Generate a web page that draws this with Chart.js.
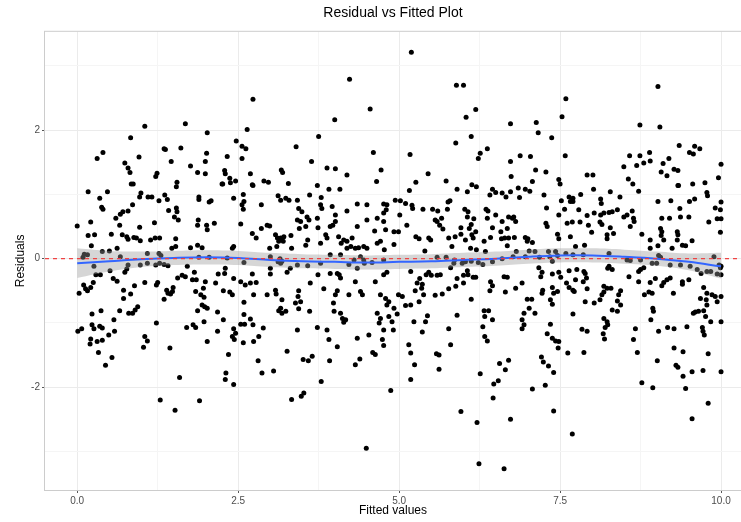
<!DOCTYPE html>
<html>
<head>
<meta charset="utf-8">
<script src="https://cdn.jsdelivr.net/npm/chart.js@4/dist/chart.umd.min.js"></script>
<style>
  html, body { margin: 0; padding: 0; background: #fff; }
  #wrap { width: 741px; height: 522px; }
</style>
</head>
<body>
<div id="wrap"><canvas id="residPlot"></canvas></div>
<script>
// axis breaks
const xMajor = [0, 2.5, 5, 7.5, 10];
const xMinor = [1.25, 3.75, 6.25, 8.75];
const yMajor = [-2, 0, 2];
const yMinor = [-3, -1, 1, 3];

// loess fit and its confidence band
const smoothX    = [0, 0.5, 1, 1.5, 2, 2.5, 3, 3.5, 4, 4.5, 5, 5.5, 6, 6.5, 7, 7.5, 8, 8.5, 9, 9.5, 10];
const smoothY    = [-0.07, -0.04, -0.01, 0.01, 0.02, 0.01, -0.02, -0.04, -0.05, -0.06, -0.05, -0.04, -0.02, 0.00, 0.03, 0.05, 0.05, 0.03, 0.00, -0.05, -0.12];
const bandLow    = [-0.30, -0.20, -0.13, -0.10, -0.09, -0.10, -0.13, -0.15, -0.16, -0.17, -0.16, -0.15, -0.13, -0.11, -0.08, -0.06, -0.06, -0.08, -0.11, -0.18, -0.31];
const bandHigh   = [0.16, 0.12, 0.11, 0.12, 0.13, 0.12, 0.09, 0.07, 0.06, 0.05, 0.06, 0.07, 0.09, 0.11, 0.14, 0.16, 0.16, 0.14, 0.11, 0.08, 0.09];

// [fitted, residual]
const residuals = [
  [1.05,2.06],[1.68,2.10],[0.83,1.88],[2.02,1.96],[0.40,1.65],[0.31,1.56],[1.35,1.71],[1.37,1.70],[1.61,1.72],[0.96,1.58],
  [0.74,1.49],[0.79,1.41],[0.82,1.34],[1.46,1.51],[1.76,1.44],[2.01,1.64],[1.99,1.51],[1.87,1.34],[1.99,1.32],[1.24,1.33],
  [1.22,1.28],[0.84,1.16],[0.87,1.16],[1.55,1.19],[2.26,1.16],
  [4.23,2.79],[2.73,2.48],[4.55,2.33],[4.00,2.16],[2.64,2.01],[3.75,1.90],[2.47,1.83],[2.56,1.75],[2.62,1.71],[3.40,1.74],
  [2.33,1.59],[2.56,1.56],[4.60,1.65],[3.64,1.51],[2.29,1.37],[2.30,1.32],[2.37,1.25],[2.38,1.18],[2.46,1.21],[2.25,1.16],
  [2.69,1.32],[2.72,1.15],[2.90,1.21],[2.97,1.19],[3.17,1.38],[3.19,1.34],[3.28,1.17],[3.88,1.41],[4.01,1.40],[4.19,1.30],
  [4.72,1.38],[4.65,1.20],[3.73,1.14],
  [5.19,3.21],[5.89,2.70],[6.00,2.70],[7.59,2.49],[6.19,2.32],[6.04,2.20],[7.53,2.21],[6.73,2.10],[7.13,2.12],[7.16,1.96],
  [6.12,1.90],[7.37,1.88],[5.88,1.80],[5.17,1.62],[6.37,1.71],[6.26,1.64],[6.23,1.56],[6.73,1.51],[6.88,1.60],[7.04,1.59],
  [7.58,1.60],[7.12,1.38],[7.28,1.35],[6.74,1.28],[5.45,1.32],[5.26,1.19],[5.73,1.21],[7.07,1.20],[7.48,1.23],[7.50,1.16],
  [6.13,1.15],
  [9.02,2.68],[8.74,2.08],[9.05,2.05],[9.35,1.76],[9.59,1.75],[9.67,1.71],[9.51,1.65],[9.57,1.63],[8.58,1.60],[8.74,1.60],
  [8.89,1.65],[8.90,1.52],[8.80,1.49],[8.69,1.45],[8.49,1.43],[9.19,1.56],[9.10,1.48],[9.27,1.39],[9.33,1.37],[9.07,1.35],
  [9.16,1.29],[10.0,1.47],[9.96,1.26],[9.75,1.18],[9.56,1.16],[9.33,1.14],[8.56,1.24],[8.63,1.16],[7.92,1.30],[8.01,1.30],
  [0.17,1.04],[0.47,1.04],[0.35,0.94],[0.38,0.80],[0.40,0.77],[0.97,0.96],[0.99,1.02],[1.10,0.96],[1.16,0.96],[1.27,0.90],
  [1.36,0.99],[1.40,0.92],[1.54,1.12],[1.89,0.96],[1.89,0.92],[2.05,0.88],[2.08,0.90],[1.42,0.75],[1.54,0.79],[1.55,0.73],
  [0.71,0.73],[0.79,0.74],[0.86,0.84],[0.60,0.63],[0.67,0.69],[0.66,0.52],[1.51,0.65],[1.57,0.60],[1.88,0.60],[1.87,0.52],
  [2.01,0.52],[2.02,0.45],[2.13,0.55],[1.20,0.56],[0.97,0.49],[0.00,0.51],[0.21,0.57],[0.17,0.36],[0.27,0.37],[0.22,0.20],
  [0.53,0.38],[0.70,0.37],[0.77,0.34],[0.79,0.30],[0.88,0.33],[0.92,0.32],[0.98,0.28],[1.14,0.29],[1.21,0.32],[1.28,0.32],
  [1.53,0.31],[1.53,0.19],[1.47,0.16],[1.87,0.21],[1.94,0.17],[1.76,0.17],[0.62,0.16],[0.50,0.12],[0.39,0.11],[0.11,0.07],
  [0.09,0.02],[0.16,0.06],[0.67,0.03],[1.09,0.08],[1.27,0.08],[1.30,0.05],[1.89,0.02],[2.05,0.02],[1.09,-0.07],[0.98,-0.10],
  [1.22,-0.10],[1.28,-0.07],[1.35,-0.09],[1.41,-0.11],[0.79,-0.10],[0.77,-0.16],[0.74,-0.21],[0.26,-0.12],[0.29,-0.25],[0.36,-0.25],
  [0.51,-0.19],[0.25,-0.37],[0.21,-0.45],[0.10,-0.41],[0.13,-0.47],[0.03,-0.54],[0.16,-0.50],[0.56,-0.31],[0.62,-0.35],[0.89,-0.42],
  [1.05,-0.37],[1.23,-0.41],[1.25,-0.37],[0.72,-0.49],[0.72,-0.62],[0.83,-0.55],[1.49,-0.45],[1.48,-0.51],[1.39,-0.49],[1.41,-0.54],
  [1.45,-0.55],[1.35,-0.63],[1.56,-0.30],[1.63,-0.26],[1.68,-0.28],[1.71,-0.12],[1.79,-0.33],[1.85,-0.33],[1.82,-0.21],[1.99,-0.36],
  [2.15,-0.38],[2.19,-0.24],[1.96,-0.46],[1.92,-0.56],[1.84,-0.51],[1.97,-0.60],[1.94,-0.72],[1.98,-0.75],[2.02,-0.77],[1.87,-0.81],
  [2.18,-0.83],[1.80,-1.03],[1.84,-1.07],[1.70,-1.07],[1.97,-0.98],[2.18,-1.13],[2.02,-1.29],[0.23,-0.86],[0.37,-0.81],[0.66,-0.81],
  [0.80,-0.85],[0.86,-0.85],[0.90,-0.80],[0.94,-0.75],[0.57,-0.95],[0.35,-1.05],[0.39,-1.08],[0.23,-1.03],[0.26,-1.09],[0.07,-1.09],
  [0.01,-1.13],[0.49,-1.19],[0.39,-1.27],[0.31,-1.29],[0.21,-1.25],[0.20,-1.33],[0.58,-1.13],[1.05,-1.21],[1.09,-1.28],[1.23,-1.00],
  [1.03,-1.38],[1.44,-1.39],
  [0.33,-1.46],[0.54,-1.54],[0.44,-1.66],[1.59,-1.85],[1.29,-2.20],[1.52,-2.36],[1.90,-2.21],
  [2.43,0.94],[2.58,1.00],[2.59,0.89],[2.56,0.84],[2.58,0.77],[2.73,1.14],[2.86,0.84],[3.12,0.98],[3.16,0.91],[3.24,0.94],
  [3.29,0.91],[3.42,0.91],[3.61,0.99],[3.79,0.95],[3.91,1.08],[4.08,1.08],[3.44,0.78],[3.49,0.73],[3.78,0.84],[3.80,0.78],
  [3.96,0.81],[4.01,0.68],[4.19,0.74],[4.35,0.85],[4.50,0.84],[4.76,0.85],[4.81,0.84],[4.80,0.76],[4.76,0.71],[4.94,0.91],
  [3.42,0.60],[3.47,0.58],[3.57,0.65],[3.60,0.60],[3.73,0.63],[3.45,0.47],[3.55,0.50],[3.74,0.48],[3.93,0.50],[3.97,0.52],
  [4.01,0.58],[4.35,0.50],[4.50,0.60],[4.66,0.63],[4.76,0.58],[4.79,0.45],[4.62,0.43],[4.92,0.42],[2.54,0.54],[2.72,0.39],
  [2.78,0.32],[2.86,0.47],[2.95,0.52],[2.99,0.51],[3.08,0.37],[3.11,0.32],[3.16,0.32],[3.21,0.34],[3.13,0.27],[3.20,0.27],
  [3.32,0.36],[3.58,0.29],[3.55,0.21],[3.78,0.24],[3.86,0.37],[3.88,0.32],[4.06,0.34],[4.10,0.24],[4.14,0.29],[4.19,0.27],
  [4.27,0.32],[4.25,0.19],[4.19,0.16],[4.32,0.16],[4.37,0.17],[4.45,0.19],[4.50,0.16],[4.66,0.24],[4.71,0.27],[4.92,0.22],
  [4.77,0.14],[2.43,0.19],[2.41,0.16],[2.99,0.16],[3.10,0.19],[3.33,0.16],[3.00,0.03],[3.15,0.00],[3.12,-0.05],[3.16,-0.07],
  [3.18,-0.04],[3.42,-0.10],[3.58,-0.11],[3.78,-0.07],[3.93,0.06],[4.09,0.06],[4.22,-0.09],[4.40,0.03],[4.45,-0.02],[4.46,-0.07],
  [4.30,-0.02],[4.58,-0.06],[4.76,-0.02],[2.33,0.01],[2.59,-0.06],[2.30,-0.15],[2.29,-0.23],[2.43,-0.31],[2.72,-0.24],[3.00,-0.15],
  [3.00,-0.24],[3.26,-0.21],[3.31,-0.15],[3.74,-0.25],[3.93,-0.23],[4.04,-0.23],[4.07,-0.25],[4.09,-0.30],[4.35,-0.15],[4.32,-0.36],
  [4.63,-0.36],[4.76,-0.25],[4.81,-0.21],[2.54,-0.36],[2.61,-0.41],[2.69,-0.38],[2.78,-0.37],[2.27,-0.50],[2.37,-0.52],[2.41,-0.56],
  [2.59,-0.68],[2.74,-0.56],[2.95,-0.56],[3.08,-0.49],[3.09,-0.55],[3.18,-0.64],[3.44,-0.50],[3.47,-0.67],[3.39,-0.69],[3.43,-0.59],
  [3.62,-0.38],[3.83,-0.47],[4.04,-0.50],[4.01,-0.56],[4.22,-0.56],[4.40,-0.51],[4.43,-0.56],[4.71,-0.56],[4.79,-0.62],[4.84,-0.67],
  [4.81,-0.72],[4.92,-0.77],[3.16,-0.77],[3.13,-0.81],[3.18,-0.85],[3.24,-0.82],[3.44,-0.78],[3.98,-0.69],[3.61,-0.82],[3.99,-0.82],
  [4.09,-0.85],[4.12,-0.93],[4.17,-0.95],[4.14,-0.99],[4.66,-0.85],[4.71,-0.93],[4.84,-0.90],[4.89,-0.98],[2.27,-0.95],[2.59,-0.87],
  [2.69,-0.94],[2.54,-1.02],[2.60,-1.02],[2.43,-1.09],[2.46,-1.16],[2.41,-1.21],[2.44,-1.26],[2.73,-1.03],[2.89,-1.08],[2.82,-1.21],
  [2.74,-1.29],[2.58,-1.31],[3.42,-1.11],[3.73,-1.07],[3.88,-1.11],[3.91,-1.26],[4.04,-1.37],[4.35,-1.24],[4.53,-1.19],[4.69,-1.00],
  [4.76,-1.11],[4.91,-1.11],[4.74,-1.26],[4.76,-1.35],
  [2.35,-1.49],[2.31,-1.78],[2.30,-1.88],[2.43,-1.96],[2.81,-1.59],[2.87,-1.78],[3.05,-1.75],[3.26,-1.44],[3.51,-1.57],[3.59,-1.59],
  [3.65,-1.52],[3.33,-2.19],[3.48,-2.14],[3.52,-2.09],[3.79,-1.91],[3.92,-1.59],[4.32,-1.65],[4.39,-1.56],[4.59,-1.46],[4.63,-1.49],
  [4.87,-2.05],[4.49,-2.95],
  [5.16,1.06],[5.90,1.08],[6.06,1.04],[6.20,1.12],[6.45,1.08],[6.41,0.99],[6.50,1.03],[6.60,1.02],[6.66,0.96],[6.73,1.04],
  [6.87,0.95],[6.85,1.10],[6.96,1.08],[7.03,1.05],[7.25,0.99],[7.52,0.90],[7.64,0.96],[7.66,0.89],[5.02,0.90],[5.10,0.86],
  [5.20,0.83],[5.21,0.78],[5.37,0.77],[5.52,0.77],[5.60,0.74],[5.75,0.77],[5.79,0.90],[5.76,0.88],[6.02,0.77],[6.07,0.73],
  [6.06,0.65],[6.16,0.62],[6.35,0.77],[6.38,0.74],[6.37,0.63],[6.50,0.68],[6.60,0.58],[6.70,0.65],[6.78,0.65],[6.76,0.63],
  [6.81,0.58],[7.29,0.79],[7.48,0.68],[7.57,0.77],[5.01,0.68],[5.12,0.52],[5.56,0.60],[5.59,0.58],[5.63,0.52],[5.66,0.63],
  [5.96,0.48],[6.09,0.47],[6.12,0.53],[6.19,0.42],[6.45,0.48],[6.68,0.47],[7.28,0.55],[7.30,0.50],[7.61,0.55],[5.26,0.34],
  [5.31,0.31],[5.46,0.32],[5.49,0.29],[5.68,0.46],[5.77,0.32],[5.87,0.34],[5.96,0.38],[6.03,0.29],[6.13,0.37],[6.15,0.32],
  [6.32,0.27],[6.42,0.33],[6.58,0.42],[6.59,0.31],[6.64,0.32],[6.70,0.32],[6.79,0.33],[6.96,0.33],[7.00,0.31],[7.07,0.25],
  [6.99,0.27],[7.46,0.38],[7.48,0.31],[7.66,0.34],[5.40,0.12],[4.99,0.42],[5.82,0.19],[6.11,0.16],[6.20,0.14],[6.34,0.11],
  [6.68,0.20],[6.82,0.11],[7.02,0.12],[7.11,0.11],[7.32,0.11],[7.43,0.11],[7.59,0.08],[5.59,0.02],[5.73,0.02],[5.86,-0.02],
  [5.98,-0.07],[6.03,-0.05],[6.12,-0.04],[6.23,-0.06],[6.30,-0.09],[6.45,-0.05],[6.60,0.00],[6.77,0.03],[6.96,0.03],[7.18,0.02],
  [7.34,0.03],[7.38,-0.04],[7.46,0.05],[5.18,-0.20],[5.42,-0.25],[5.46,-0.21],[5.50,-0.26],[5.59,-0.26],[5.64,-0.25],[5.80,-0.14],
  [5.85,-0.07],[6.06,-0.19],[6.07,-0.25],[6.15,-0.29],[6.19,-0.29],[6.00,-0.26],[6.63,-0.28],[6.68,-0.29],[7.17,-0.14],[7.22,-0.21],
  [7.20,-0.28],[7.38,-0.24],[7.48,-0.21],[7.51,-0.29],[7.64,-0.19],[5.32,-0.31],[5.28,-0.38],[5.36,-0.40],[5.35,-0.46],[5.38,-0.56],
  [5.31,-0.67],[5.25,-0.50],[4.99,-0.56],[5.05,-0.59],[5.10,-0.73],[5.18,-0.72],[5.56,-0.57],[5.67,-0.55],[5.77,-0.47],[5.90,-0.31],
  [5.88,-0.43],[6.00,-0.38],[6.12,-0.63],[6.42,-0.36],[6.45,-0.42],[6.41,-0.50],[6.65,-0.52],[6.81,-0.46],[6.91,-0.38],[7.23,-0.49],
  [7.22,-0.54],[7.40,-0.54],[7.38,-0.45],[7.60,-0.38],[7.64,-0.45],[6.99,-0.63],[7.06,-0.63],[7.02,-0.77],[7.35,-0.64],[7.38,-0.71],
  [7.46,-0.51],[5.44,-0.89],[5.41,-0.98],[5.36,-1.14],[5.23,-0.98],[5.15,-1.34],[4.97,-0.86],[5.77,-1.09],[5.90,-0.88],[6.32,-0.81],
  [6.39,-0.81],[6.33,-0.90],[6.45,-0.95],[6.30,-1.06],[6.33,-1.21],[6.37,-1.28],[6.91,-0.95],[6.94,-0.85],[6.94,-1.03],[6.91,-1.09],
  [7.11,-0.85],[7.35,-1.02],[7.30,-1.17],[7.38,-1.24],[7.43,-1.28],[7.48,-1.29],[7.47,-1.39],
  [5.18,-1.47],[5.24,-1.65],[5.18,-1.88],[5.58,-1.48],[5.62,-1.50],[5.62,-1.72],[5.80,-1.34],[5.96,-2.38],[6.26,-1.79],[6.21,-2.55],
  [6.24,-3.19],[6.46,-2.17],[6.47,-1.95],[6.54,-1.90],[6.56,-1.63],[6.65,-1.73],[6.70,-1.58],[6.73,-2.50],[6.63,-3.27],[7.07,-2.03],
  [7.21,-1.53],[7.24,-1.61],[7.32,-1.67],[7.27,-1.97],[7.40,-1.77],[7.40,-2.37],[7.62,-1.47],[7.69,-2.73],
  [8.02,1.08],[8.28,1.04],[8.72,1.05],[9.34,1.14],[9.78,1.03],[9.79,0.98],[7.70,0.94],[7.70,0.89],[7.82,1.00],[8.13,0.93],
  [8.14,0.86],[8.43,0.96],[9.02,0.89],[9.22,0.90],[9.51,0.89],[9.59,0.93],[10.0,0.88],[9.99,0.76],[9.91,0.79],[7.79,0.76],
  [7.92,0.67],[8.03,0.71],[8.13,0.68],[8.18,0.71],[8.26,0.72],[8.31,0.73],[8.39,0.76],[8.49,0.65],[8.54,0.68],[8.62,0.74],
  [8.64,0.63],[8.65,0.58],[8.59,0.50],[8.12,0.57],[8.15,0.53],[8.28,0.48],[8.23,0.37],[8.23,0.31],[8.33,0.39],[7.99,0.41],
  [7.69,0.57],[7.81,0.57],[7.94,0.52],[9.08,0.63],[9.20,0.63],[9.37,0.65],[9.36,0.78],[9.50,0.65],[9.81,0.57],[9.94,0.62],
  [10.0,0.62],[9.99,0.41],[9.06,0.47],[9.08,0.42],[9.07,0.36],[9.11,0.29],[9.32,0.42],[9.33,0.37],[9.32,0.29],[8.77,0.38],
  [8.90,0.29],[9.40,0.21],[9.45,0.20],[9.55,0.28],[9.02,0.20],[8.90,0.16],[9.24,0.16],[7.74,0.19],[7.88,0.21],[7.86,0.06],
  [7.70,0.06],[8.26,0.08],[8.54,-0.02],[8.59,-0.03],[8.75,-0.02],[9.03,0.05],[9.06,0.02],[9.00,-0.07],[8.93,-0.07],[9.21,-0.10],
  [9.37,-0.10],[9.52,-0.12],[9.63,-0.17],[9.69,-0.23],[9.78,-0.20],[9.89,0.03],[9.97,-0.10],[9.99,-0.14],[10.0,-0.12],[10.0,-0.25],
  [9.94,-0.24],[9.84,-0.20],[7.76,-0.17],[7.87,-0.20],[7.89,-0.23],[8.26,-0.12],[8.24,-0.15],[8.31,-0.17],[8.57,-0.28],[8.72,-0.20],
  [8.75,-0.17],[8.80,-0.14],[7.74,-0.33],[7.86,-0.36],[7.91,-0.30],[7.70,-0.49],[7.72,-0.51],[7.92,-0.47],[8.18,-0.43],[8.23,-0.46],
  [8.29,-0.46],[8.44,-0.50],[8.41,-0.56],[8.18,-0.52],[8.15,-0.56],[8.12,-0.64],[8.03,-0.69],[7.89,-0.67],[8.39,-0.66],[8.44,-0.72],
  [8.39,-0.82],[8.31,-0.80],[7.70,-0.86],[8.72,-0.36],[8.90,-0.37],[8.98,-0.31],[9.11,-0.37],[9.16,-0.33],[9.21,-0.30],[9.08,-0.42],
  [9.40,-0.36],[9.50,-0.33],[9.40,-0.40],[8.81,-0.56],[8.88,-0.52],[8.93,-0.54],[9.26,-0.54],[8.94,-0.77],[8.95,-0.82],[8.91,-0.95],
  [9.73,-0.45],[9.78,-0.54],[9.68,-0.62],[9.77,-0.64],[9.86,-0.56],[9.91,-0.59],[9.94,-0.67],[10.0,-0.59],[9.78,-0.72],[9.73,-0.81],
  [9.65,-0.82],[9.60,-0.83],[9.57,-0.85],[9.76,-0.90],[9.84,-0.98],[10.0,-0.98],[9.47,-1.06],[9.71,-1.07],[9.72,-1.13],[9.74,-1.19],
  [9.27,-1.09],[9.17,-1.07],[9.03,-1.13],[8.67,-1.09],[8.64,-1.26],[8.18,-0.93],[8.23,-0.98],[8.24,-1.03],[8.20,-1.07],[8.17,-1.17],
  [7.84,-1.10],[7.92,-1.13],[8.19,-1.25],
  [7.87,-1.46],[8.70,-1.46],[9.01,-1.59],[9.27,-1.39],[9.41,-1.45],[9.80,-1.48],[9.30,-1.66],[9.33,-1.69],[9.41,-1.83],[9.55,-1.76],
  [9.72,-1.74],[10.0,-1.76],[8.77,-1.93],[8.94,-2.01],[9.45,-2.02],[9.80,-2.25],[9.55,-2.49]
];

const FONT = "'Liberation Sans', Arial, Helvetica, sans-serif";
Chart.defaults.font.family = FONT;

// grey frame round the panel
const panelFrame = {
  id: 'panelFrame',
  afterDraw(chart) {
    const { ctx, chartArea: a } = chart;
    ctx.save();
    ctx.strokeStyle = '#cccccc';
    ctx.lineWidth = 1;
    ctx.strokeRect(a.left - 0.5, a.top - 0.5, a.right - a.left + 1, a.bottom - a.top + 1);
    ctx.restore();
  }
};

// dashed red reference line at residual = 0
const zeroLine = {
  id: 'zeroLine',
  afterDatasetsDraw(chart) {
    const { ctx, chartArea: a, scales: { y } } = chart;
    const py = y.getPixelForValue(0);
    ctx.save();
    ctx.beginPath();
    ctx.setLineDash([4, 4]);
    ctx.strokeStyle = '#f03c3c';
    ctx.lineWidth = 1.2;
    ctx.moveTo(a.left, py);
    ctx.lineTo(a.right, py);
    ctx.stroke();
    ctx.restore();
  }
};

const isMajor = (list, v) => list.some(m => Math.abs(m - v) < 1e-9);

function axis(major, minor, min, max, fmt, fit, title, titlePad) {
  const all = major.concat(minor).sort((a, b) => a - b);
  return {
    type: 'linear',
    min: min,
    max: max,
    afterBuildTicks: s => { s.ticks = all.map(v => ({ value: v })); },
    afterFit: fit,
    border: { display: false },
    grid: {
      color: c => isMajor(major, c.tick.value) ? '#ebebeb' : '#f5f5f5',
      tickColor: c => isMajor(major, c.tick.value) ? '#555555' : 'rgba(0,0,0,0)',
      tickLength: 3,
      lineWidth: 1
    },
    ticks: {
      autoSkip: false,
      maxRotation: 0,
      padding: 2,
      color: '#4d4d4d',
      font: { size: 10 },
      callback: v => isMajor(major, v) ? fmt(v) : ''
    },
    title: {
      display: true,
      text: title,
      color: '#000000',
      font: { size: 12 },
      padding: titlePad
    }
  };
}

new Chart(document.getElementById('residPlot'), {
  type: 'scatter',
  data: {
    datasets: [
      {
        type: 'line',
        data: smoothX.map((x, i) => ({ x: x, y: smoothY[i] })),
        borderColor: '#3366ff',
        borderWidth: 2,
        pointRadius: 0,
        tension: 0.4,
        fill: false,
        order: 1
      },
      {
        type: 'line',
        data: smoothX.map((x, i) => ({ x: x, y: bandHigh[i] })),
        borderWidth: 0,
        pointRadius: 0,
        tension: 0.4,
        fill: '+1',
        backgroundColor: 'rgba(153,153,153,0.4)',
        order: 2
      },
      {
        type: 'line',
        data: smoothX.map((x, i) => ({ x: x, y: bandLow[i] })),
        borderWidth: 0,
        pointRadius: 0,
        tension: 0.4,
        fill: false,
        order: 3
      },
      {
        data: residuals.map(p => ({ x: p[0], y: p[1] })),
        backgroundColor: '#000000',
        borderWidth: 0,
        pointRadius: 2.5,
        order: 4
      }
    ]
  },
  options: {
    responsive: true,
    maintainAspectRatio: false,
    devicePixelRatio: 1,
    animation: false,
    layout: { padding: 0, autoPadding: false },
    plugins: {
      legend: { display: false },
      tooltip: { enabled: false },
      title: {
        display: true,
        text: 'Residual vs Fitted Plot',
        fullSize: false,
        color: '#000000',
        font: { size: 14, weight: 'normal' },
        padding: { top: 5, bottom: 10 }
      }
    },
    scales: {
      x: axis(xMajor, xMinor, -0.5, 10.31, v => v.toFixed(1),
               s => { s.height = 32; }, 'Fitted values', { top: 0, bottom: 4 }),
      y: axis(yMajor, yMinor, -3.6, 3.53, v => String(v),
               s => { s.width = 45; }, 'Residuals', { top: 13, bottom: 0 })
    }
  },
  plugins: [panelFrame, zeroLine]
});
</script>
</body>
</html>
